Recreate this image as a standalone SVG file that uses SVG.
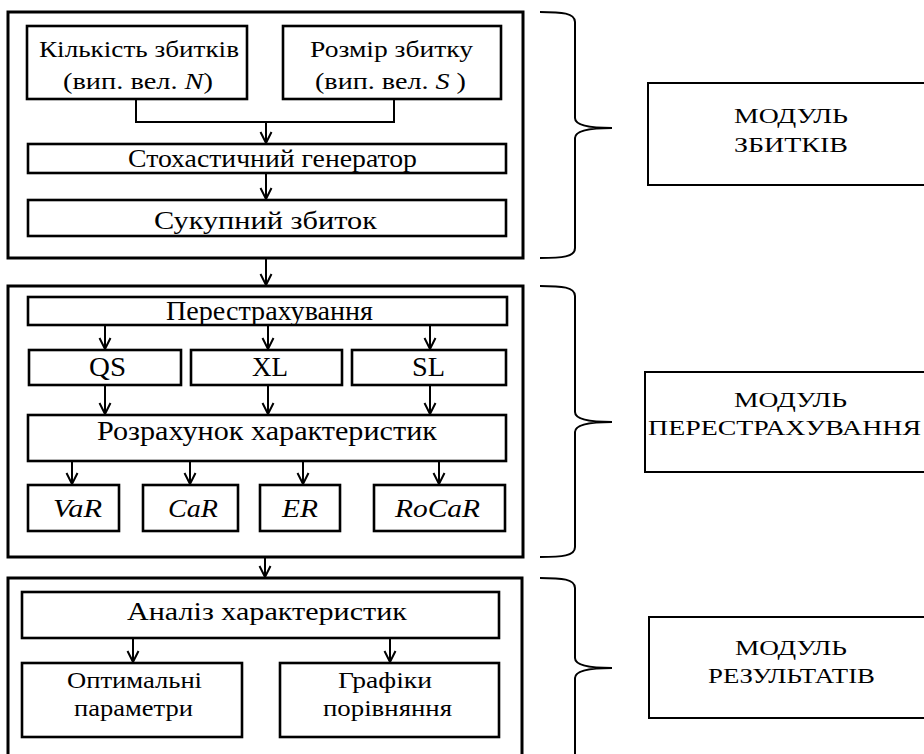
<svg xmlns="http://www.w3.org/2000/svg" width="924" height="754" viewBox="0 0 924 754">
<defs>
<marker id="ah" viewBox="-13 -7 15 14" refX="0" refY="0" markerWidth="15" markerHeight="14" orient="auto" markerUnits="userSpaceOnUse">
<path d="M-11,-5.5 L0,0 L-11,5.5" fill="none" stroke="#000" stroke-width="2"/>
</marker>
</defs>
<style>
.outer{fill:none;stroke:#000;stroke-width:3}
.box{fill:#fff;stroke:#000;stroke-width:2.6}
.mod{fill:#fff;stroke:#000;stroke-width:2}
.ln{fill:none;stroke:#000;stroke-width:2}
.ar{fill:none;stroke:#000;stroke-width:2;marker-end:url(#ah)}
.br{fill:none;stroke:#000;stroke-width:2}
text{font-family:"Liberation Serif","Times New Roman",serif;fill:#000}
.t23{font-size:23px}
.t24{font-size:24px}
.t25{font-size:25px}
.t26{font-size:26px}
.t27{font-size:27px}
.t21{font-size:21px}
.it{font-style:italic}
</style>
<rect width="924" height="754" fill="#fff"/>

<g id="module1">
<rect class="outer" x="8" y="12" width="515" height="246"/>
</g>
<g id="module2">
<rect class="outer" x="8" y="286" width="515" height="271"/>
</g>
<g id="module3">
<rect class="outer" x="8" y="578" width="514" height="190"/>
</g>

<g id="connectors">
<polyline class="ln" points="136,99 136,122 394,122 394,99"/>
<line class="ar" x1="266" y1="122" x2="266" y2="143"/>
<line class="ar" x1="266" y1="173" x2="266" y2="199"/>
<line class="ar" x1="266" y1="258" x2="266" y2="285"/>
<line class="ar" x1="105" y1="325" x2="105" y2="349"/>
<line class="ar" x1="268" y1="325" x2="268" y2="349"/>
<line class="ar" x1="430" y1="325" x2="430" y2="349"/>
<line class="ar" x1="105" y1="385" x2="105" y2="414"/>
<line class="ar" x1="268" y1="385" x2="268" y2="414"/>
<line class="ar" x1="430" y1="385" x2="430" y2="414"/>
<line class="ar" x1="72" y1="461" x2="72" y2="484"/>
<line class="ar" x1="190" y1="461" x2="190" y2="484"/>
<line class="ar" x1="303" y1="461" x2="303" y2="484"/>
<line class="ar" x1="439" y1="461" x2="439" y2="484"/>
<line class="ar" x1="265" y1="557" x2="265" y2="577"/>
<line class="ar" x1="133" y1="638" x2="133" y2="662"/>
<line class="ar" x1="390" y1="638" x2="390" y2="662"/>
</g>

<g id="n-kilkist">
<rect class="box" x="27" y="26" width="220" height="73"/>
<text class="t23" x="39" y="57" textLength="200" lengthAdjust="spacingAndGlyphs">Кількість збитків</text>
<text class="t23" x="63" y="89" textLength="150" lengthAdjust="spacingAndGlyphs">(вип. вел. <tspan class="it">N</tspan>)</text>
</g>
<g id="n-rozmir">
<rect class="box" x="283" y="26" width="218" height="73"/>
<text class="t23" x="310" y="57" textLength="163" lengthAdjust="spacingAndGlyphs">Розмір збитку</text>
<text class="t23" x="315" y="89" textLength="151" lengthAdjust="spacingAndGlyphs">(вип. вел. <tspan class="it">S</tspan> )</text>
</g>
<g id="n-generator">
<rect class="box" x="28" y="144" width="478" height="29"/>
<text class="t25" x="128" y="167" textLength="289" lengthAdjust="spacingAndGlyphs">Стохастичний генератор</text>
</g>
<g id="n-sukupnyi">
<rect class="box" x="28" y="200" width="478" height="36"/>
<text class="t26" x="154" y="229" textLength="223" lengthAdjust="spacingAndGlyphs">Сукупний збиток</text>
</g>

<g id="n-perestrakh">
<rect class="box" x="28" y="297" width="479" height="28"/>
<text class="t27" x="166" y="320" textLength="207" lengthAdjust="spacingAndGlyphs">Перестрахування</text>
</g>
<g id="n-qs">
<rect class="box" x="29" y="350" width="152" height="35"/>
<text class="t27" x="89" y="376" textLength="37" lengthAdjust="spacingAndGlyphs">QS</text>
</g>
<g id="n-xl">
<rect class="box" x="191" y="350" width="151" height="35"/>
<text class="t27" x="252" y="376" textLength="36" lengthAdjust="spacingAndGlyphs">XL</text>
</g>
<g id="n-sl">
<rect class="box" x="352" y="350" width="154" height="35"/>
<text class="t27" x="412" y="376" textLength="33" lengthAdjust="spacingAndGlyphs">SL</text>
</g>
<g id="n-rozrakhunok">
<rect class="box" x="28" y="415" width="478" height="46"/>
<text class="t27" x="97" y="440" textLength="340" lengthAdjust="spacingAndGlyphs">Розрахунок характеристик</text>
</g>
<g id="n-var">
<rect class="box" x="28" y="485" width="91" height="46"/>
<text class="t26 it" x="53" y="517" textLength="49" lengthAdjust="spacingAndGlyphs">VaR</text>
</g>
<g id="n-car">
<rect class="box" x="143" y="485" width="95" height="46"/>
<text class="t26 it" x="168" y="517" textLength="50" lengthAdjust="spacingAndGlyphs">CaR</text>
</g>
<g id="n-er">
<rect class="box" x="260" y="485" width="80" height="46"/>
<text class="t26 it" x="282" y="517" textLength="36" lengthAdjust="spacingAndGlyphs">ER</text>
</g>
<g id="n-rocar">
<rect class="box" x="374" y="485" width="131" height="46"/>
<text class="t26 it" x="395" y="517" textLength="85" lengthAdjust="spacingAndGlyphs">RoCaR</text>
</g>

<g id="n-analiz">
<rect class="box" x="22" y="592" width="477" height="46"/>
<text class="t26" x="127" y="620" textLength="280" lengthAdjust="spacingAndGlyphs">Аналіз характеристик</text>
</g>
<g id="n-optym">
<rect class="box" x="22" y="663" width="220" height="74"/>
<text class="t24" x="67" y="688" textLength="135" lengthAdjust="spacingAndGlyphs">Оптимальні</text>
<text class="t24" x="74" y="716" textLength="119" lengthAdjust="spacingAndGlyphs">параметри</text>
</g>
<g id="n-grafiky">
<rect class="box" x="280" y="663" width="219" height="74"/>
<text class="t24" x="338" y="688" textLength="94" lengthAdjust="spacingAndGlyphs">Графіки</text>
<text class="t24" x="323" y="716" textLength="129" lengthAdjust="spacingAndGlyphs">порівняння</text>
</g>

<g id="braces">
<path class="br" d="M540,12 C562,12 575,13 575,22 L575,118 C575,125 588,128 612,128 C588,128 575,131 575,138 L575,248 C575,257 562,258 540,258"/>
<path class="br" d="M540,286 C562,286 575,287 575,296 L575,412 C575,419 588,422 612,422 C588,422 575,425 575,432 L575,547 C575,556 562,557 540,557"/>
<path class="br" d="M540,578 C562,578 575,579 575,588 L575,658 C575,665 588,668 612,668 C588,668 575,671 575,678 L575,760"/>
</g>

<g id="lbl-zbytkiv">
<rect class="mod" x="648" y="83" width="300" height="102"/>
<text class="t21" x="734" y="123" textLength="114" lengthAdjust="spacingAndGlyphs">МОДУЛЬ</text>
<text class="t21" x="734" y="152" textLength="114" lengthAdjust="spacingAndGlyphs">ЗБИТКІВ</text>
</g>
<g id="lbl-perestrakh">
<rect class="mod" x="645" y="372" width="300" height="100"/>
<text class="t21" x="734" y="407" textLength="113" lengthAdjust="spacingAndGlyphs">МОДУЛЬ</text>
<text class="t21" x="648" y="435" textLength="273" lengthAdjust="spacingAndGlyphs">ПЕРЕСТРАХУВАННЯ</text>
</g>
<g id="lbl-rezult">
<rect class="mod" x="649" y="617" width="300" height="101"/>
<text class="t21" x="735" y="655" textLength="112" lengthAdjust="spacingAndGlyphs">МОДУЛЬ</text>
<text class="t21" x="708" y="683" textLength="167" lengthAdjust="spacingAndGlyphs">РЕЗУЛЬТАТІВ</text>
</g>
</svg>
